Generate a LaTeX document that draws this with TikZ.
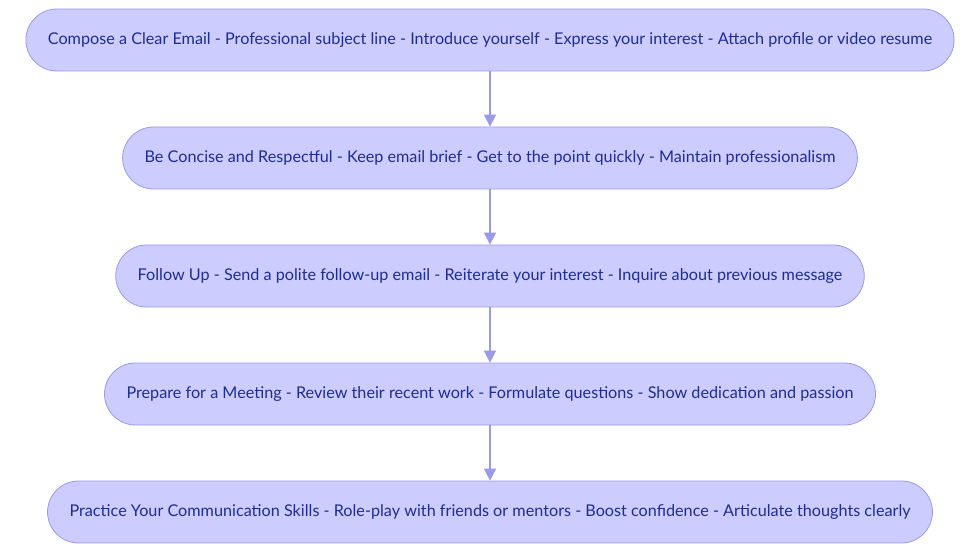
\documentclass[tikz,border=0pt]{standalone}
\usepackage{fontspec}
\setmainfont{Lato}
\usepackage{tikz}
\usetikzlibrary{positioning}
\usetikzlibrary{arrows.meta}

\definecolor{stepfill}{HTML}{CCCCFF}
\definecolor{stepline}{HTML}{9A9AE8}
\definecolor{steptext}{HTML}{1F2D91}

\begin{document}
\begin{tikzpicture}[x=1pt, y=-1pt,
	stepbox/.style={draw=stepline, fill=stepfill, text=steptext, line width=0.8pt,
		rounded corners=31pt, minimum height=62pt, inner xsep=22pt,
		font=\fontsize{16.2}{19}\selectfont},
	flow/.style={draw=stepline, line width=1.6pt, -{Triangle[width=12pt,length=12pt]}}]
	
	% ------------------------------------------------
	% Ensure the dimensions of graphic are appropriate
	\useasboundingbox (0,0) rectangle (980,553);
	
	% ----------------
	% Steps
	\node[stepbox] (Email)    at (490,40)  {Compose a Clear Email - Professional subject line - Introduce yourself - Express your interest - Attach profile or video resume};
	\node[stepbox] (Concise)  at (490,158) {Be Concise and Respectful - Keep email brief - Get to the point quickly - Maintain professionalism};
	\node[stepbox] (FollowUp) at (490,276) {Follow Up - Send a polite follow-up email - Reiterate your interest - Inquire about previous message};
	\node[stepbox] (Meeting)  at (490,394) {Prepare for a Meeting - Review their recent work - Formulate questions - Show dedication and passion};
	\node[stepbox] (Practice) at (490,512) {Practice Your Communication Skills - Role-play with friends or mentors - Boost confidence - Articulate thoughts clearly};
	
	%%%%%%%%%%%%%%%%%%%%%%%%%%%%%%%%%%%%%%%%%
	% Arrows
	\draw[flow] (Email)    -- (Concise);
	\draw[flow] (Concise)  -- (FollowUp);
	\draw[flow] (FollowUp) -- (Meeting);
	\draw[flow] (Meeting)  -- (Practice);
	
\end{tikzpicture}
\end{document}
